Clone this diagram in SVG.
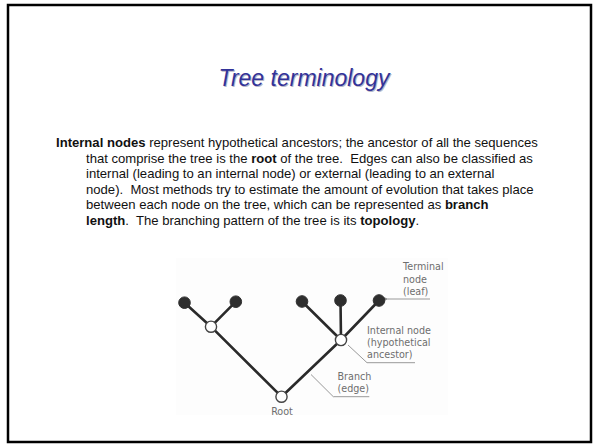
<svg xmlns="http://www.w3.org/2000/svg" width="594" height="445" viewBox="0 0 594 445">
<style>
.body{font-family:"Liberation Sans",Arial,sans-serif;font-size:13.1px;fill:#111;white-space:pre}
.b{font-weight:bold}
.lbl{font-family:"DejaVu Sans","Open Sans",sans-serif;font-size:9.6px;fill:#6e6e6e}
.edge{stroke:#2a2a2a;stroke-width:2.6;stroke-linecap:round;fill:none}
.lead{stroke:#999;stroke-width:1;fill:none}
.leaf{fill:#2e2e2e;stroke:#2e2e2e;stroke-width:1}
.inner{fill:#fff;stroke:#444;stroke-width:1.4}
</style>
<defs>
<marker id="ah" viewBox="0 0 10 10" refX="1" refY="5" markerWidth="6" markerHeight="6" orient="auto-start-reverse">
<path d="M10,1 L0,5 L10,9 z" fill="#888"/>
</marker>
</defs>
<rect x="0" y="0" width="594" height="445" fill="#fff"/>
<rect x="8" y="5" width="583" height="437" fill="none" stroke="#000" stroke-width="2.5"/>
<g id="title">
<text x="305" y="87" text-anchor="middle" font-family="Liberation Sans,Arial,sans-serif" font-size="23" font-style="italic" fill="#b8b8c8">Tree terminology</text>
<text x="304" y="86" text-anchor="middle" font-family="Liberation Sans,Arial,sans-serif" font-size="23" font-style="italic" fill="#333399">Tree terminology</text>
</g>
<g id="paragraph">
<text class="body" x="56" y="147"><tspan class="b">Internal nodes</tspan> represent hypothetical ancestors; the ancestor of all the sequences</text>
<text class="body" x="86" y="162.5">that comprise the tree is the <tspan class="b">root</tspan> of the tree.  Edges can also be classified as</text>
<text class="body" x="86" y="178">internal (leading to an internal node) or external (leading to an external</text>
<text class="body" x="86" y="193.5">node).  Most methods try to estimate the amount of evolution that takes place</text>
<text class="body" x="86" y="209">between each node on the tree, which can be represented as <tspan class="b">branch</tspan></text>
<text class="body" x="86" y="224.5"><tspan class="b">length</tspan>.  The branching pattern of the tree is its <tspan class="b">topology</tspan>.</text>
</g>
<rect x="176" y="258" width="272" height="157" fill="#fdfdfd"/>
<g id="connectors">
<line class="edge" x1="281.5" y1="396.7" x2="211" y2="326.7"/>
<line class="edge" x1="281.5" y1="396.7" x2="341" y2="340"/>
<line class="edge" x1="211" y1="326.7" x2="184.5" y2="302.7"/>
<line class="edge" x1="211" y1="326.7" x2="235.8" y2="301.7"/>
<line class="edge" x1="341" y1="340" x2="302" y2="301.5"/>
<line class="edge" x1="341" y1="340" x2="340.5" y2="300.5"/>
<line class="edge" x1="341" y1="340" x2="379" y2="300.5"/>
<line class="lead" x1="430" y1="299" x2="388" y2="299" marker-end="url(#ah)"/>
<polyline class="lead" points="348,345 367,362.7 415,362.7"/>
<polyline class="lead" points="311,374.5 333.3,396.7 369.3,396.7"/>
</g>
<g id="leaf1"><circle class="leaf" cx="184.5" cy="302.7" r="5.8"/></g>
<g id="leaf2"><circle class="leaf" cx="235.8" cy="301.7" r="5.8"/></g>
<g id="leaf3"><circle class="leaf" cx="302" cy="301.5" r="5.8"/></g>
<g id="leaf4"><circle class="leaf" cx="340.5" cy="300.5" r="5.8"/></g>
<g id="leaf5"><circle class="leaf" cx="379" cy="300.5" r="5.8"/></g>
<g id="internal-left"><circle class="inner" cx="211" cy="326.7" r="5.6"/></g>
<g id="internal-right"><circle class="inner" cx="341" cy="340" r="5.6"/></g>
<g id="root"><circle class="inner" cx="281.5" cy="396.7" r="5.6"/>
<text class="lbl" x="282" y="414.5" text-anchor="middle">Root</text></g>
<g id="label-terminal">
<text class="lbl" x="403" y="270">Terminal</text>
<text class="lbl" x="403" y="282.5">node</text>
<text class="lbl" x="403" y="295">(leaf)</text>
</g>
<g id="label-internal">
<text class="lbl" x="367" y="333.5">Internal node</text>
<text class="lbl" x="367" y="345.5">(hypothetical</text>
<text class="lbl" x="367" y="357.5">ancestor)</text>
</g>
<g id="label-branch">
<text class="lbl" x="337.5" y="380">Branch</text>
<text class="lbl" x="337.5" y="392">(edge)</text>
</g>
</svg>
